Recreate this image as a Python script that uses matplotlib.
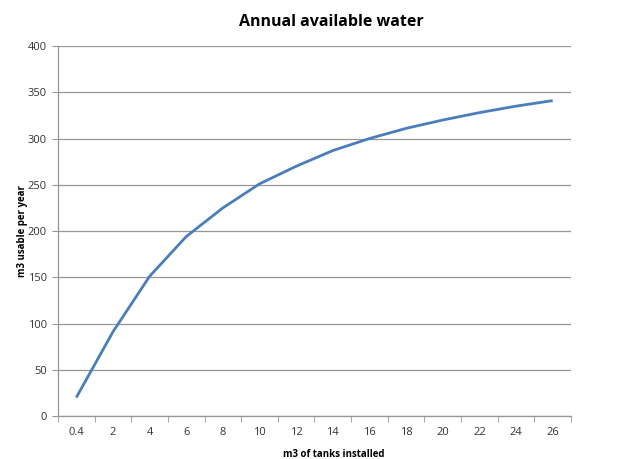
import numpy as np
import matplotlib.pyplot as plt

tank_sizes = ["0.4", "2", "4", "6", "8", "10", "12", "14", "16", "18", "20", "22", "24", "26"]
usable = [20, 91, 151, 194, 225, 251, 270, 287, 300, 311, 320, 328, 335, 341]

plt.rcParams['font.family'] = ['Open Sans', 'DejaVu Sans']

fig = plt.figure(figsize=(6.2, 4.59), dpi=100)
ax = fig.add_axes([0.0935, 0.0937, 0.8275, 0.806])

x = np.arange(len(tank_sizes))
ax.plot(x, usable, color="#4A7EBB", linewidth=2.0, solid_capstyle="butt")

ax.set_xlim(-0.5, len(tank_sizes) - 0.5)
ax.set_ylim(0, 400)
ax.set_yticks(range(0, 401, 50))
ax.set_xticks(x)
ax.set_xticklabels(tank_sizes)
ax.set_xticks(np.arange(-0.5, len(tank_sizes), 1), minor=True)

ax.grid(axis="y", color="#969696", linewidth=0.9)
ax.set_axisbelow(True)
for side in ["top", "right"]:
    ax.spines[side].set_visible(False)
for side in ["left", "bottom"]:
    ax.spines[side].set_color("#969696")
    ax.spines[side].set_linewidth(0.9)

ax.tick_params(axis="x", which="major", length=0, pad=8, labelsize=8, colors="#333333")
ax.tick_params(axis="x", which="minor", length=4, color="#969696")
ax.tick_params(axis="y", length=4, color="#969696", labelsize=8, labelcolor="#333333", pad=4)

fig.text(0.534, 0.952, "Annual available water", fontsize=11.5, fontweight="bold",
         ha="center", va="center")
ax.set_xlabel("m3 of tanks installed", fontsize=7, fontweight="bold")
ax.xaxis.set_label_coords(0.537, -0.09)
ax.set_ylabel("m3 usable per year", fontsize=7, fontweight="bold", labelpad=0)

fig.savefig("out.png", dpi=100, facecolor="white")
